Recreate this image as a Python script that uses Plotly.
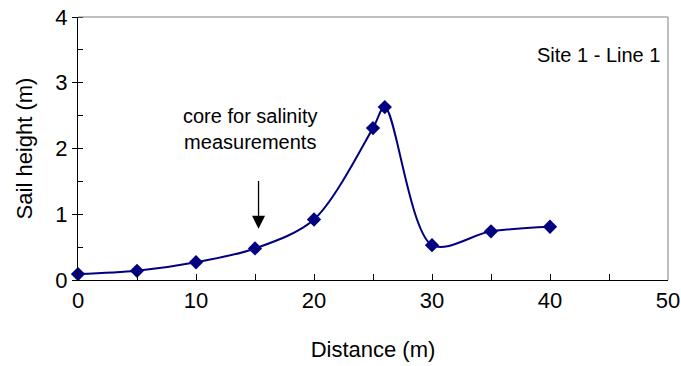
import plotly.graph_objects as go

distance = [0, 5, 10, 15, 20, 25, 26, 30, 35, 40]
sail_height = [0.09, 0.14, 0.27, 0.48, 0.92, 2.31, 2.63, 0.53, 0.74, 0.81]

fig = go.Figure()
fig.add_trace(go.Scatter(
    x=distance, y=sail_height, mode="lines+markers",
    line=dict(color="#000080", width=2, shape="spline", smoothing=0.9),
    marker=dict(symbol="diamond", size=11, color="#000080"),
    showlegend=False, cliponaxis=False,
))

font = "Liberation Sans, Arial, sans-serif"
fig.update_layout(
    width=681, height=366,
    margin=dict(l=78, r=13, t=17, b=86),
    paper_bgcolor="white", plot_bgcolor="white",
    font=dict(family=font, color="black", size=22),
    xaxis=dict(
        range=[0, 50], dtick=10, tick0=0, showgrid=False, zeroline=False,
        showline=True, linecolor="black", linewidth=1.3, mirror=False,
        ticks="inside", ticklen=6, tickcolor="black", automargin=False,
        minor=dict(dtick=5, ticks="inside", ticklen=6, tickcolor="black"),
        tickfont=dict(size=22),
        title=dict(text="Distance (m)", font=dict(size=22), standoff=30),
    ),
    yaxis=dict(
        range=[0, 4], dtick=1, tick0=0, showgrid=False, zeroline=False,
        showline=True, linecolor="black", linewidth=1.3, automargin=False,
        ticks="outside", ticklen=5, tickcolor="black",
        minor=dict(dtick=0.5, ticks="inside", ticklen=5, tickcolor="black"),
        tickfont=dict(size=22),
        title=dict(text="Sail height (m)", font=dict(size=22), standoff=16),
    ),
    shapes=[
        dict(type="line", xref="paper", yref="paper", x0=0, x1=1, y0=1, y1=1,
             line=dict(color="#808080", width=1)),
        dict(type="line", xref="paper", yref="paper", x0=1, x1=1, y0=0, y1=1,
             line=dict(color="#808080", width=1)),
    ],
    annotations=[
        dict(text="core for salinity<br>measurements", x=14.6, y=2.3, xref="x", yref="y",
             showarrow=False, font=dict(size=20), align="center", yanchor="middle"),
        dict(x=15.3, y=0.78, ax=15.3, ay=1.53, xref="x", yref="y", axref="x", ayref="y",
             showarrow=True, arrowhead=2, arrowsize=2.0, arrowwidth=1.3, arrowcolor="black", text=""),
        dict(text="Site 1 - Line 1", x=0.99, y=0.855, xref="paper", yref="paper",
             xanchor="right", yanchor="middle", showarrow=False, font=dict(size=20)),
    ],
)

fig.write_html("out.html")
